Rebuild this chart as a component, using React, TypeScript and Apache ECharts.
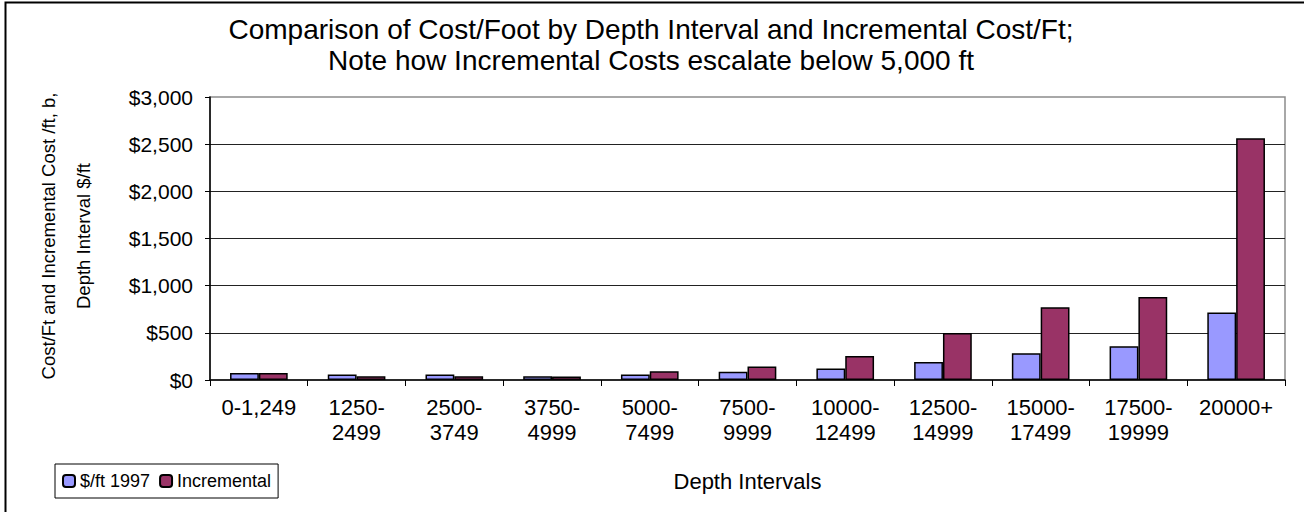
import React, { useEffect, useRef } from "react";
import * as echarts from "echarts";

const categories = [
  "0-1,249",
  "1250-\n2499",
  "2500-\n3749",
  "3750-\n4999",
  "5000-\n7499",
  "7500-\n9999",
  "10000-\n12499",
  "12500-\n14999",
  "15000-\n17499",
  "17500-\n19999",
  "20000+",
];
const costPerFt1997 = [73, 57, 57, 40, 57, 88, 123, 191, 283, 357, 715];
const incremental = [73, 39, 39, 38, 92, 144, 254, 498, 771, 880, 2562];
const yTicks = { min: 0, max: 3000, interval: 500 };

const FONT = "'Liberation Sans', Arial, sans-serif";

export default function App() {
  const ref = useRef<HTMLDivElement>(null);
  useEffect(() => {
    if (!ref.current) return;
    const chart = echarts.init(ref.current, null, { renderer: "svg" });
    chart.setOption({
      animation: false,
      backgroundColor: "#ffffff",
      graphic: [
        {
          type: "rect",
          shape: { x: 5.5, y: 2.5, width: 1400, height: 600 },
          style: { fill: "none", stroke: "#000", lineWidth: 2 },
          silent: true,
        },
        {
          type: "text",
          x: 651,
          y: 45,
          style: {
            text: "Comparison of Cost/Foot by Depth Interval and Incremental Cost/Ft;\nNote how Incremental Costs escalate below 5,000 ft",
            fontFamily: FONT,
            fontSize: 28,
            lineHeight: 31,
            fill: "#000",
            align: "center",
            verticalAlign: "middle",
          },
        },
        {
          type: "text",
          x: 66,
          y: 236,
          rotation: Math.PI / 2,
          style: {
            text: "Cost/Ft and Incremental Cost /ft, b,\nDepth Interval $/ft",
            fontFamily: FONT,
            fontSize: 18.5,
            lineHeight: 35,
            fill: "#000",
            align: "center",
            verticalAlign: "middle",
          },
        },
      ],
      legend: {
        left: 55,
        top: 464,
        orient: "horizontal",
        borderColor: "#000",
        borderWidth: 1,
        padding: [8, 7],
        itemWidth: 12,
        itemHeight: 12,
        itemGap: 9,
        textStyle: { fontFamily: FONT, fontSize: 18, color: "#000" },
        data: ["$/ft 1997", "Incremental"],
      },
      grid: {
        left: 210,
        right: 19,
        top: 97,
        bottom: 132,
        show: true,
        borderColor: "#8c8c8c",
        borderWidth: 1.5,
        backgroundColor: "transparent",
      },
      xAxis: {
        type: "category",
        data: categories,
        name: "Depth Intervals",
        nameLocation: "middle",
        nameGap: 90,
        nameTextStyle: { fontFamily: FONT, fontSize: 22, color: "#000" },
        axisLine: { show: true, lineStyle: { color: "#000", width: 1.5 } },
        axisTick: { show: true, length: 6, lineStyle: { color: "#000" } },
        axisLabel: {
          fontFamily: FONT,
          fontSize: 22,
          color: "#000",
          lineHeight: 25,
          margin: 15,
          interval: 0,
        },
      },
      yAxis: {
        type: "value",
        min: yTicks.min,
        max: yTicks.max,
        interval: yTicks.interval,
        axisLine: { show: true, lineStyle: { color: "#000", width: 1.5 } },
        axisTick: { show: true, length: 5, lineStyle: { color: "#000" } },
        axisLabel: {
          fontFamily: FONT,
          fontSize: 21,
          color: "#000",
          margin: 17,
          formatter: (v: number) => "$" + v.toLocaleString("en-US"),
        },
        splitLine: {
          show: true,
          showMinLine: false,
          showMaxLine: false,
          lineStyle: { color: "#222", width: 1 },
        },
      },
      series: [
        {
          name: "$/ft 1997",
          type: "bar",
          data: costPerFt1997,
          barGap: "0%",
          barCategoryGap: "41%",
          itemStyle: { color: "#9999FF", borderColor: "#000", borderWidth: 1.5 },
        },
        {
          name: "Incremental",
          type: "bar",
          data: incremental,
          barGap: "0%",
          barCategoryGap: "41%",
          itemStyle: { color: "#993366", borderColor: "#000", borderWidth: 1.5 },
        },
      ],
    });
    return () => chart.dispose();
  }, []);
  return (
    <div
      ref={ref}
      style={{ position: "fixed", left: 0, top: 0, width: 1304, height: 512 }}
    />
  );
}
